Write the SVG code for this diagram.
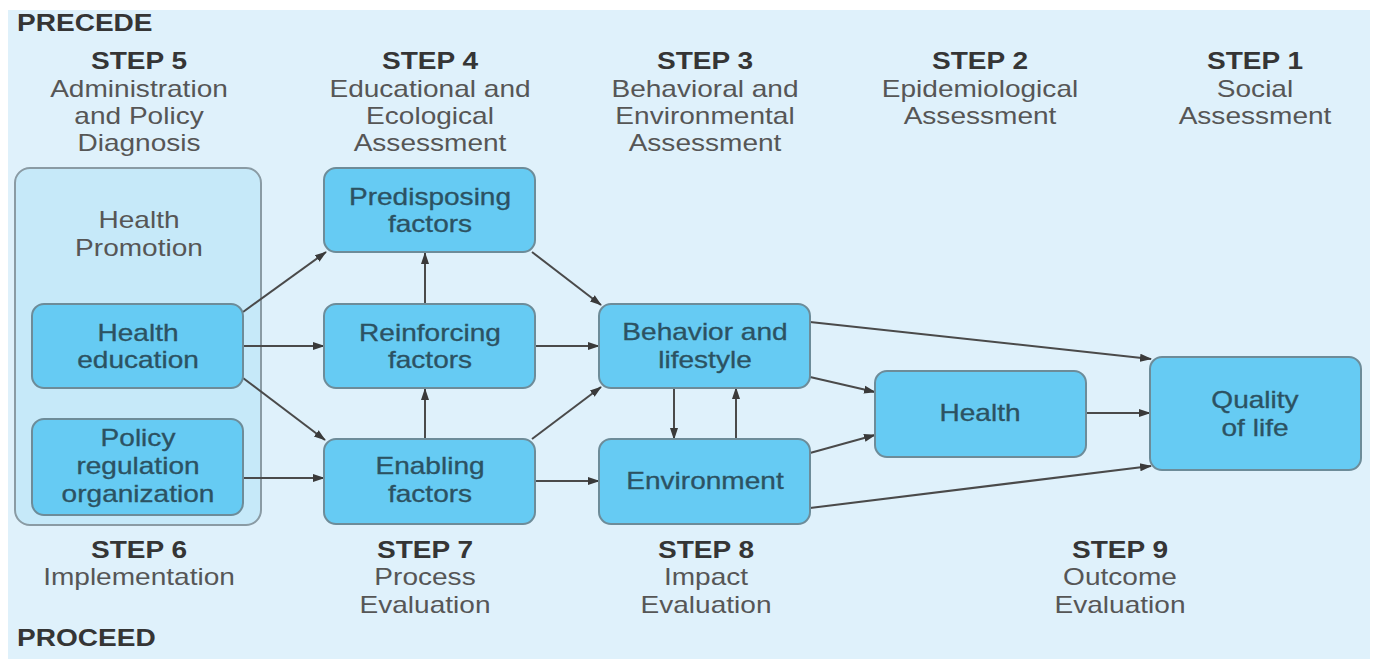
<svg xmlns="http://www.w3.org/2000/svg" width="1375" height="659" viewBox="0 0 1375 659">
<defs>
<style>
.panel{fill:#dff1fb}
.outer{fill:#c6e9f9;stroke:#8a9ba4;stroke-width:2}
.box{fill:#66cbf3;stroke:#6d8c99;stroke-width:2}
text{font-family:"Liberation Sans",Arial,sans-serif;font-size:23px}
.hd{font-weight:bold;fill:#353535}
.ds{fill:#565656}
.nt{fill:#2c5262;text-anchor:middle;stroke:#2c5262;stroke-width:0.3}
.st{text-anchor:middle}
.conn line{stroke:#4a4a4a;stroke-width:2;marker-end:url(#ah)}
</style>
<marker id="ah" markerUnits="userSpaceOnUse" markerWidth="12" markerHeight="10" refX="11" refY="5" orient="auto">
<path d="M0,1 L12,5 L0,9 Z" fill="#3a3a3a"/>
</marker>
</defs>
<rect class="panel" x="8" y="10" width="1362" height="649"/>

<g id="headers">
<text class="hd" transform="translate(17 0) scale(1.22 1)" x="0" y="31">PRECEDE</text>
<text class="hd" transform="translate(17 0) scale(1.22 1)" x="0" y="646">PROCEED</text>
<g class="st">
<text transform="translate(139 0) scale(1.22 1)"><tspan class="hd" x="0" y="69">STEP 5</tspan><tspan class="ds" x="0" y="97">Administration</tspan><tspan class="ds" x="0" y="124">and Policy</tspan><tspan class="ds" x="0" y="151">Diagnosis</tspan></text>
<text transform="translate(430 0) scale(1.22 1)"><tspan class="hd" x="0" y="69">STEP 4</tspan><tspan class="ds" x="0" y="97">Educational and</tspan><tspan class="ds" x="0" y="124">Ecological</tspan><tspan class="ds" x="0" y="151">Assessment</tspan></text>
<text transform="translate(705 0) scale(1.22 1)"><tspan class="hd" x="0" y="69">STEP 3</tspan><tspan class="ds" x="0" y="97">Behavioral and</tspan><tspan class="ds" x="0" y="124">Environmental</tspan><tspan class="ds" x="0" y="151">Assessment</tspan></text>
<text transform="translate(980 0) scale(1.22 1)"><tspan class="hd" x="0" y="69">STEP 2</tspan><tspan class="ds" x="0" y="97">Epidemiological</tspan><tspan class="ds" x="0" y="124">Assessment</tspan></text>
<text transform="translate(1255 0) scale(1.22 1)"><tspan class="hd" x="0" y="69">STEP 1</tspan><tspan class="ds" x="0" y="97">Social</tspan><tspan class="ds" x="0" y="124">Assessment</tspan></text>
<text transform="translate(139 0) scale(1.22 1)"><tspan class="hd" x="0" y="558">STEP 6</tspan><tspan class="ds" x="0" y="585">Implementation</tspan></text>
<text transform="translate(425 0) scale(1.22 1)"><tspan class="hd" x="0" y="558">STEP 7</tspan><tspan class="ds" x="0" y="585">Process</tspan><tspan class="ds" x="0" y="613">Evaluation</tspan></text>
<text transform="translate(706 0) scale(1.22 1)"><tspan class="hd" x="0" y="558">STEP 8</tspan><tspan class="ds" x="0" y="585">Impact</tspan><tspan class="ds" x="0" y="613">Evaluation</tspan></text>
<text transform="translate(1120 0) scale(1.22 1)"><tspan class="hd" x="0" y="558">STEP 9</tspan><tspan class="ds" x="0" y="585">Outcome</tspan><tspan class="ds" x="0" y="613">Evaluation</tspan></text>
</g>
</g>

<g id="health-promotion">
<rect class="outer" x="15" y="168" width="246" height="357" rx="15"/>
<text class="ds st" transform="translate(139 0) scale(1.22 1)"><tspan x="0" y="228">Health</tspan><tspan x="0" y="256">Promotion</tspan></text>
</g>

<g class="conn" id="connectors">
<line x1="243" y1="312" x2="326" y2="252"/>
<line x1="243" y1="346" x2="324" y2="346"/>
<line x1="243" y1="378" x2="325" y2="440"/>
<line x1="243" y1="478" x2="324" y2="478"/>
<line x1="425" y1="304" x2="425" y2="253"/>
<line x1="425" y1="439" x2="425" y2="389"/>
<line x1="532" y1="252" x2="601" y2="305"/>
<line x1="535" y1="346" x2="599" y2="346"/>
<line x1="532" y1="439" x2="601" y2="387"/>
<line x1="535" y1="481" x2="599" y2="481"/>
<line x1="674" y1="388" x2="674" y2="439"/>
<line x1="736" y1="439" x2="736" y2="388"/>
<line x1="810" y1="322" x2="1151" y2="359"/>
<line x1="810" y1="377" x2="875" y2="392"/>
<line x1="810" y1="453" x2="875" y2="435"/>
<line x1="810" y1="508" x2="1151" y2="466"/>
<line x1="1086" y1="413" x2="1150" y2="413"/>
</g>

<g id="health-education">
<rect class="box" x="32" y="304" width="211" height="84" rx="12"/>
<text class="nt" transform="translate(138 0) scale(1.22 1)"><tspan x="0" y="341">Health</tspan><tspan x="0" y="368">education</tspan></text>
</g>
<g id="policy">
<rect class="box" x="32" y="419" width="211" height="96" rx="12"/>
<text class="nt" transform="translate(138 0) scale(1.22 1)"><tspan x="0" y="446">Policy</tspan><tspan x="0" y="474">regulation</tspan><tspan x="0" y="502">organization</tspan></text>
</g>
<g id="predisposing">
<rect class="box" x="324" y="168" width="211" height="84" rx="12"/>
<text class="nt" transform="translate(430 0) scale(1.22 1)"><tspan x="0" y="205">Predisposing</tspan><tspan x="0" y="232">factors</tspan></text>
</g>
<g id="reinforcing">
<rect class="box" x="324" y="304" width="211" height="84" rx="12"/>
<text class="nt" transform="translate(430 0) scale(1.22 1)"><tspan x="0" y="341">Reinforcing</tspan><tspan x="0" y="368">factors</tspan></text>
</g>
<g id="enabling">
<rect class="box" x="324" y="439" width="211" height="85" rx="12"/>
<text class="nt" transform="translate(430 0) scale(1.22 1)"><tspan x="0" y="474">Enabling</tspan><tspan x="0" y="502">factors</tspan></text>
</g>
<g id="behavior">
<rect class="box" x="599" y="304" width="211" height="84" rx="12"/>
<text class="nt" transform="translate(705 0) scale(1.22 1)"><tspan x="0" y="340">Behavior and</tspan><tspan x="0" y="368">lifestyle</tspan></text>
</g>
<g id="environment">
<rect class="box" x="599" y="439" width="211" height="85" rx="12"/>
<text class="nt" transform="translate(705 0) scale(1.22 1)"><tspan x="0" y="489">Environment</tspan></text>
</g>
<g id="health">
<rect class="box" x="875" y="371" width="211" height="86" rx="12"/>
<text class="nt" transform="translate(980 0) scale(1.22 1)"><tspan x="0" y="421">Health</tspan></text>
</g>
<g id="quality">
<rect class="box" x="1150" y="357" width="211" height="113" rx="12"/>
<text class="nt" transform="translate(1255 0) scale(1.22 1)"><tspan x="0" y="408">Quality</tspan><tspan x="0" y="436">of life</tspan></text>
</g>
</svg>
